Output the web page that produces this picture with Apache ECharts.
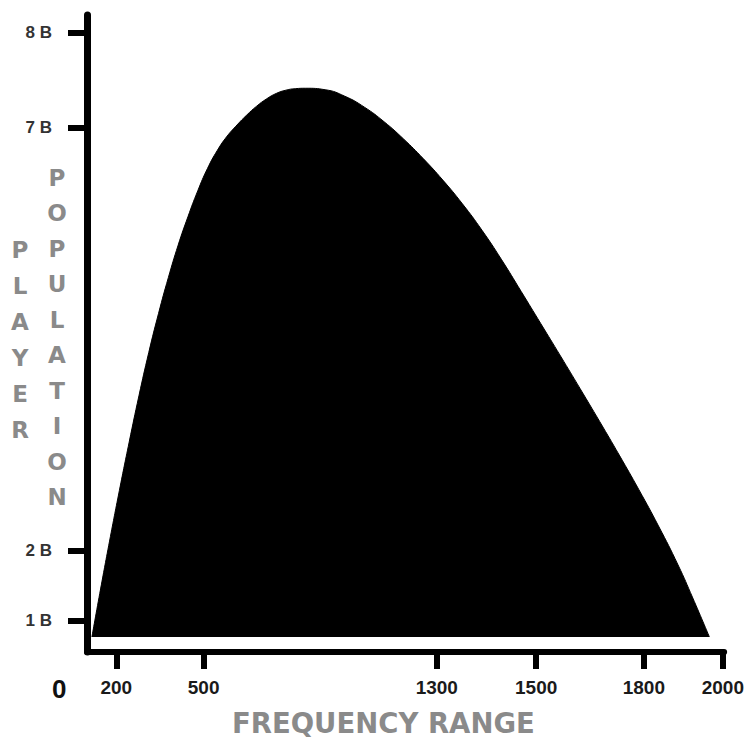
<!DOCTYPE html>
<html>
<head>
<meta charset="utf-8">
<script src="https://cdn.jsdelivr.net/npm/echarts@6/dist/echarts.min.js"></script>
<style>
html,body{margin:0;padding:0;background:#fff;}
#c{width:747px;height:740px;}
</style>
</head>
<body>
<div id="c"></div>
<script>
// Hand-drawn, not-to-scale chart: both axes run 0..100 along the drawn axis length.
const xTickLabels = ['200', '500', '1300', '1500', '1800', '2000'];
const xTickAt     = [4.6, 18.3, 54.9, 70.5, 87.4, 99.8];
const yTickLabels = ['1 B', '2 B', '7 B', '8 B'];
const yTickAt     = [4.9, 15.9, 82.3, 97.2];
const baseline = 2.355;
const curveX = [0.77, 2.0, 3.54, 5.08, 6.62, 8.15, 9.69, 11.23, 12.77, 14.31, 15.85, 17.38, 18.92, 20.46, 22.0, 23.54, 25.08, 26.62, 28.15, 29.69, 31.23, 32.77, 34.31,
                37.38, 40.46, 43.54, 46.62, 49.69, 52.77, 55.85, 58.92, 62.0, 65.08, 68.15, 71.23, 74.31, 77.38, 80.46, 83.54, 86.62, 89.69, 92.77, 95.08, 97.69];
const curveY = [2.355, 9.17, 17.41, 25.34, 32.95, 40.21, 47.0, 53.16, 58.78, 63.88, 68.35, 72.39, 75.93, 78.75, 80.99, 82.73, 84.3, 85.68, 86.81, 87.68, 88.2, 88.44, 88.5,
                88.27, 87.25, 85.53, 83.25, 80.53, 77.46, 74.08, 70.36, 66.2, 61.57, 56.59, 51.54, 46.48, 41.37, 36.19, 30.91, 25.48, 19.8, 13.66, 8.48, 2.355];

const chart = echarts.init(document.getElementById('c'), null, {renderer: 'svg'});
const axisFont = '"Liberation Sans", Arial, sans-serif';
const titleFont = '"DejaVu Sans", sans-serif';
chart.setOption({
  animation: false,
  backgroundColor: '#fff',
  grid: {left: 87, right: 10, top: 15, bottom: 88},
  xAxis: {
    type: 'value', min: 0, max: 100,
    splitLine: {show: false},
    axisLine: {show: true, lineStyle: {color: '#000', width: 6}},
    axisTick: {show: true, customValues: xTickAt, length: 17, lineStyle: {color: '#000', width: 6}},
    axisLabel: {
      customValues: xTickAt, margin: 26,
      fontFamily: axisFont, fontWeight: 'bold', fontSize: 19, color: '#1a1a1a',
      formatter: v => xTickLabels[xTickAt.indexOf(v)]
    }
  },
  yAxis: {
    type: 'value', min: 0, max: 100,
    splitLine: {show: false},
    axisLine: {show: true, lineStyle: {color: '#000', width: 7}},
    axisTick: {show: true, customValues: yTickAt, length: 19, lineStyle: {color: '#000', width: 6}},
    axisLabel: {
      customValues: yTickAt, margin: 35,
      fontFamily: axisFont, fontWeight: 'bold', fontSize: 17, color: '#333',
      formatter: v => yTickLabels[yTickAt.indexOf(v)]
    }
  },
  series: [{
    type: 'line',
    data: curveX.map((x, i) => [x, curveY[i]]),
    smooth: 0.5,
    symbol: 'none',
    lineStyle: {color: '#000', width: 1},
    areaStyle: {color: '#000', opacity: 1, origin: baseline}
  }],
  graphic: [
    {type: 'text', left: 52, top: 676, style: {text: '0', font: 'bold 26px ' + axisFont, fill: '#111'}},
    {type: 'text', left: 232, top: 709, style: {text: 'FREQUENCY RANGE', font: 'bold 27.5px ' + titleFont, fill: '#8a8a8a'}},
    {type: 'text', x: 20, y: 232, style: {text: 'P\nL\nA\nY\nE\nR', font: 'bold 23px ' + titleFont, fill: '#8a8a8a', align: 'center', verticalAlign: 'top', lineHeight: 36}},
    {type: 'text', x: 57, y: 160, style: {text: 'P\nO\nP\nU\nL\nA\nT\nI\nO\nN', font: 'bold 23px ' + titleFont, fill: '#8a8a8a', align: 'center', verticalAlign: 'top', lineHeight: 35.5}}
  ]
});
</script>
</body>
</html>
